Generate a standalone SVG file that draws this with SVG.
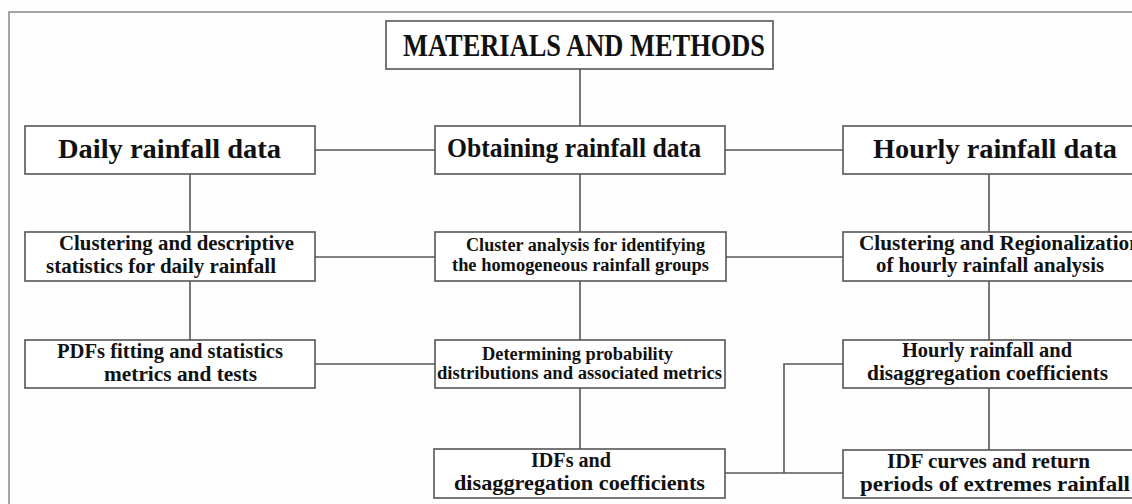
<svg xmlns="http://www.w3.org/2000/svg" width="1132" height="504" viewBox="0 0 1132 504">
<style>
.box{fill:#fff;stroke:#555;stroke-width:1.6}
.ln{fill:none;stroke:#555;stroke-width:1.6}
text{font-family:"Liberation Serif","DejaVu Serif",serif;font-weight:bold;fill:#111}
.t1{font-size:32px}
.t2{font-size:28px}
.t3{font-size:21px}
.t4{font-size:18px}
</style>
<rect x="0" y="0" width="1132" height="504" fill="#fdfdfd"/>
<rect x="9" y="12" width="1140" height="510" fill="none" stroke="#888" stroke-width="1.5"/>
<g id="connectors">
<line class="ln" x1="580" y1="69" x2="580" y2="126"/>
<line class="ln" x1="315" y1="150" x2="435" y2="150"/>
<line class="ln" x1="725" y1="150" x2="843" y2="150"/>
<line class="ln" x1="190" y1="174" x2="190" y2="232"/>
<line class="ln" x1="580" y1="174" x2="580" y2="232"/>
<line class="ln" x1="989" y1="174" x2="989" y2="232"/>
<line class="ln" x1="315" y1="257" x2="435" y2="257"/>
<line class="ln" x1="726" y1="257" x2="843" y2="257"/>
<line class="ln" x1="190" y1="281" x2="190" y2="340"/>
<line class="ln" x1="580" y1="281" x2="580" y2="340"/>
<line class="ln" x1="989" y1="281" x2="989" y2="340"/>
<line class="ln" x1="315" y1="364" x2="435" y2="364"/>
<line class="ln" x1="580" y1="388" x2="580" y2="449"/>
<line class="ln" x1="989" y1="388" x2="989" y2="450"/>
<polyline class="ln" points="843,364 784,364 784,473"/>
<line class="ln" x1="725" y1="473" x2="843" y2="473"/>
</g>
<g id="materials">
<rect class="box" x="386" y="21" width="387" height="48"/>
<text class="t1" x="403" y="56" textLength="362" lengthAdjust="spacingAndGlyphs">MATERIALS AND METHODS</text>
</g>
<g id="daily">
<rect class="box" x="25" y="126" width="290" height="48"/>
<text class="t2" x="58" y="158" textLength="223" lengthAdjust="spacingAndGlyphs">Daily rainfall data</text>
</g>
<g id="obtaining">
<rect class="box" x="435" y="126" width="290" height="48"/>
<text class="t2" x="447" y="157" textLength="254" lengthAdjust="spacingAndGlyphs">Obtaining rainfall data</text>
</g>
<g id="hourly">
<rect class="box" x="843" y="126" width="300" height="48"/>
<text class="t2" x="873" y="158" textLength="244" lengthAdjust="spacingAndGlyphs">Hourly rainfall data</text>
</g>
<g id="clustering-daily">
<rect class="box" x="25" y="232" width="290" height="49"/>
<text class="t3" x="59" y="250" textLength="235" lengthAdjust="spacingAndGlyphs">Clustering and descriptive</text>
<text class="t3" x="46" y="273" textLength="230" lengthAdjust="spacingAndGlyphs">statistics for daily rainfall</text>
</g>
<g id="cluster-analysis">
<rect class="box" x="435" y="232" width="291" height="49"/>
<text class="t4" x="466" y="251" textLength="239" lengthAdjust="spacingAndGlyphs">Cluster analysis for identifying</text>
<text class="t4" x="452" y="271" textLength="257" lengthAdjust="spacingAndGlyphs">the homogeneous rainfall groups</text>
</g>
<g id="clustering-hourly">
<rect class="box" x="843" y="232" width="300" height="49"/>
<text class="t3" x="859" y="250" textLength="282" lengthAdjust="spacingAndGlyphs">Clustering and Regionalization</text>
<text class="t3" x="876" y="272" textLength="228" lengthAdjust="spacingAndGlyphs">of hourly rainfall analysis</text>
</g>
<g id="pdfs">
<rect class="box" x="25" y="340" width="290" height="48"/>
<text class="t3" x="57" y="358" textLength="226" lengthAdjust="spacingAndGlyphs">PDFs fitting and statistics</text>
<text class="t3" x="104" y="381" textLength="153" lengthAdjust="spacingAndGlyphs">metrics and tests</text>
</g>
<g id="determining">
<rect class="box" x="435" y="340" width="290" height="48"/>
<text class="t4" x="482" y="360" textLength="191" lengthAdjust="spacingAndGlyphs">Determining probability</text>
<text class="t4" x="437" y="379" textLength="285" lengthAdjust="spacingAndGlyphs">distributions and associated metrics</text>
</g>
<g id="hourly-disagg">
<rect class="box" x="843" y="340" width="300" height="48"/>
<text class="t3" x="902" y="357" textLength="170" lengthAdjust="spacingAndGlyphs">Hourly rainfall and</text>
<text class="t3" x="867" y="380" textLength="241" lengthAdjust="spacingAndGlyphs">disaggregation coefficients</text>
</g>
<g id="idfs">
<rect class="box" x="434" y="449" width="291" height="49"/>
<text class="t3" x="531" y="467" textLength="80" lengthAdjust="spacingAndGlyphs">IDFs and</text>
<text class="t3" x="454" y="490" textLength="251" lengthAdjust="spacingAndGlyphs">disaggregation coefficients</text>
</g>
<g id="idf-curves">
<rect class="box" x="843" y="450" width="300" height="48"/>
<text class="t3" x="887" y="468" textLength="203" lengthAdjust="spacingAndGlyphs">IDF curves and return</text>
<text class="t3" x="860" y="491" textLength="270" lengthAdjust="spacingAndGlyphs">periods of extremes rainfall</text>
</g>
</svg>
